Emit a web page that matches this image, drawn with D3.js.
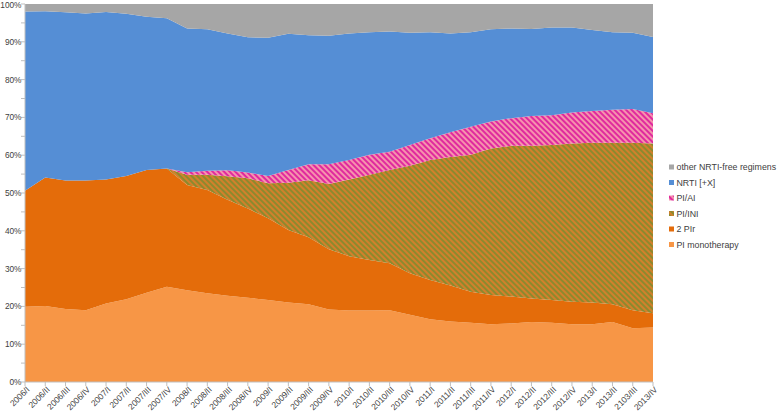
<!DOCTYPE html>
<html>
<head>
<meta charset="utf-8">
<script src="https://cdn.jsdelivr.net/npm/d3@7"></script>
<style>
  body { margin: 0; background: #fff; }
  text { font-family: "Liberation Sans", Arial, Helvetica, sans-serif; fill: #404040; }
</style>
</head>
<body>
<div id="chart"></div>
<script>
const WIDTH = 778;
const HEIGHT = 412;

const quarters = [
  "2006/I", "2006/II", "2006/III", "2006/IV", "2007/I", "2007/II", "2007/III", "2007/IV",
  "2008/I", "2008/II", "2008/III", "2008/IV", "2009/I", "2009/II", "2009/III", "2009/IV",
  "2010/I", "2010/II", "2010/III", "2010/IV", "2011/I", "2011/II", "2011/III", "2011/IV",
  "2012/I", "2012/II", "2012/III", "2012/IV", "2013/I", "2013/II", "2103/III", "2013/IV"
];

// percent of patients per quarter
const piMono = [19.9, 20.1, 19.3, 19.0, 20.8, 21.9, 23.6, 25.2, 24.3, 23.5, 22.8, 22.3, 21.7, 21.0, 20.6, 19.2,
  18.9, 18.9, 19.0, 17.8, 16.6, 16.0, 15.7, 15.3, 15.5, 15.9, 15.7, 15.3, 15.3, 15.9, 14.2, 14.4];
const twoPIr = [30.7, 34.0, 34.0, 34.3, 32.8, 32.6, 32.5, 31.3, 27.8, 27.3, 25.4, 23.6, 21.6, 19.2, 17.7, 15.9,
  14.4, 13.4, 12.4, 11.0, 10.4, 9.5, 8.2, 7.7, 7.1, 6.2, 6.0, 5.9, 5.7, 4.7, 4.8, 3.8];
const piIni = [0, 0, 0, 0, 0, 0, 0, 0, 2.7, 4.0, 6.2, 8.0, 9.3, 12.5, 15.1, 17.3,
  20.3, 22.5, 24.7, 28.4, 31.7, 34.0, 36.2, 38.8, 39.9, 40.4, 41.0, 41.9, 42.3, 42.7, 44.3, 44.9];
const piAi = [0, 0, 0, 0, 0, 0, 0, 0, 0.7, 1.1, 1.6, 1.5, 1.9, 3.4, 4.2, 5.2,
  5.1, 5.3, 4.8, 5.5, 5.8, 6.6, 7.4, 7.1, 7.3, 7.9, 7.9, 8.2, 8.4, 8.7, 8.9, 8.0];
const nrti = [47.4, 44.0, 44.5, 44.2, 44.3, 42.9, 40.5, 39.7, 38.0, 37.4, 36.2, 35.8, 36.6, 36.0, 34.1, 34.0,
  33.5, 32.4, 31.8, 29.7, 28.0, 26.1, 25.0, 24.4, 23.7, 23.0, 23.2, 22.5, 21.4, 20.5, 20.2, 20.2];
const other = [2.0, 1.9, 2.2, 2.5, 2.1, 2.6, 3.4, 3.8, 6.5, 6.7, 7.8, 8.8, 8.9, 7.9, 8.3, 8.4,
  7.8, 7.5, 7.3, 7.6, 7.5, 7.8, 7.5, 6.7, 6.5, 6.6, 6.2, 6.2, 6.9, 7.5, 7.6, 8.7];

const yTicks = [0, 0.1, 0.2, 0.3, 0.4, 0.5, 0.6, 0.7, 0.8, 0.9, 1];

const seriesNames = ["PI monotherapy", "2 PIr", "PI/INI", "PI/AI", "NRTI [+X]", "other NRTI-free regimens"];
const seriesValues = [piMono, twoPIr, piIni, piAi, nrti, other];
const fills = ["#f79646", "#e46c0a", "url(#stripeIni)", "url(#stripeAi)", "#558ed5", "#a6a6a6"];

const rows = quarters.map((q, i) => {
  const r = { quarter: q };
  seriesNames.forEach((s, k) => r[s] = seriesValues[k][i]);
  return r;
});

const svg = d3.select("#chart")
  .append("svg")
    .attr("width", WIDTH)
    .attr("height", HEIGHT);

const defs = svg.append("defs");
function stripes(id, bg, fg) {
  const p = defs.append("pattern")
      .attr("id", id)
      .attr("patternUnits", "userSpaceOnUse")
      .attr("width", 4)
      .attr("height", 4)
      .attr("patternTransform", "rotate(-45)");
  p.append("rect").attr("width", 4).attr("height", 4).attr("fill", bg);
  p.append("rect").attr("width", 2).attr("height", 4).attr("fill", fg);
}
stripes("stripeIni", "#8c8a2e", "#d2802c");
stripes("stripeAi", "#f593ad", "#e02a9e");

const x = d3.scalePoint()
  .domain(quarters)
  .range([25, 653]);

const y = d3.scaleLinear()
  .domain([0, 1])
  .range([382, 4]);

const stack = d3.stack()
  .keys(seriesNames)
  .offset(d3.stackOffsetExpand);
const layers = stack(rows);

const area = d3.area()
  .x(d => x(d.data.quarter))
  .y0(d => y(d[0]))
  .y1(d => y(d[1]));

svg.selectAll("path.layer")
  .data(layers)
  .enter()
  .append("path")
    .attr("class", "layer")
    .attr("d", area)
    .attr("fill", (d, i) => fills[i]);

// y axis
const yAxis = svg.append("g").attr("transform", "translate(25,0)");
yAxis.append("line")
  .attr("y1", y(0)).attr("y2", y(1))
  .attr("stroke", "#bfbfbf");
yAxis.selectAll("line.minor")
  .data(d3.range(0, 1.0001, 0.05))
  .enter()
  .append("line")
    .attr("class", "minor")
    .attr("x1", -4).attr("x2", 0)
    .attr("y1", d => y(d)).attr("y2", d => y(d))
    .attr("stroke", "#bfbfbf");
yAxis.selectAll("text")
  .data(yTicks)
  .enter()
  .append("text")
    .attr("x", -3.5)
    .attr("y", d => Math.max(y(d), 5.5))
    .attr("dy", "0.35em")
    .attr("text-anchor", "end")
    .style("font-size", "8.3px")
    .text(d3.format(".0%"));

// x axis
const xAxis = svg.append("g");
xAxis.append("line")
  .attr("x1", 25).attr("x2", 653)
  .attr("y1", y(0)).attr("y2", y(0))
  .attr("stroke", "#bfbfbf");
xAxis.selectAll("line.tick")
  .data(quarters)
  .enter()
  .append("line")
    .attr("class", "tick")
    .attr("x1", d => x(d)).attr("x2", d => x(d))
    .attr("y1", y(0)).attr("y2", y(0) + 4)
    .attr("stroke", "#bfbfbf");
xAxis.selectAll("text")
  .data(quarters)
  .enter()
  .append("text")
    .attr("transform", d => `translate(${x(d) + 3},${y(0) + 6}) rotate(-45)`)
    .attr("text-anchor", "end")
    .attr("dy", "0.35em")
    .style("font-size", "8.5px")
    .text(d => d);

// legend
const legendNames = seriesNames.slice().reverse();
const legendFills = fills.slice().reverse();
const legend = svg.append("g").attr("transform", "translate(669,167)");
const item = legend.selectAll("g")
  .data(legendNames)
  .enter()
  .append("g")
    .attr("transform", (d, i) => `translate(0,${i * 15.5})`);
item.append("rect")
  .attr("x", 0).attr("y", -2.5)
  .attr("width", 5).attr("height", 5)
  .attr("fill", (d, i) => legendFills[i]);
item.append("text")
  .attr("x", 7.5)
  .attr("dy", "0.35em")
  .style("font-size", "8.8px")
  .text(d => d);
</script>
</body>
</html>
